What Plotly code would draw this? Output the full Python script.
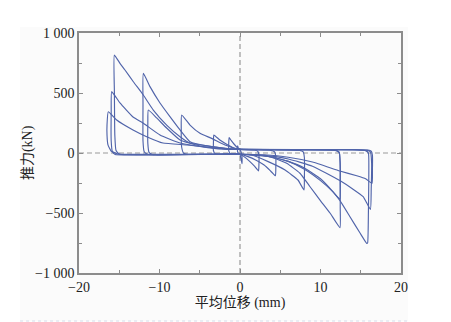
import plotly.graph_objects as go

# ---- data (displacement in mm, thrust in kN) ----
loop0_x = [0, 0.1, 0.25, 0.25, 0.1, 0, -0.2, -0.3, -0.3, -0.1, 0]
loop0_y = [-10, -40, -90, -30, 15, 25, 40, 60, 10, -8, -10]

loop1_x = [0, 0.5, 1.2, 1.8, 2.3, 2.35, 2.35, 2.2, 1.8, 1.0, 0,
           -0.25, -0.75, -1.1, -1.35, -1.4, -1.4, -1.2, -0.8, 0]
loop1_y = [-10, -30, -70, -110, -150, -100, -20, 15, 25, 28, 30,
           40, 75, 105, 128, 80, 20, -5, -10, -10]

loop2_x = [0, 1, 2, 3, 3.8, 4.4, 4.45, 4.45, 4.3, 3.8, 2, 0,
           -0.5, -1.5, -2.5, -3.25, -3.3, -3.3, -3.1, -2.6, 0]
loop2_y = [-10, -30, -60, -100, -150, -190, -120, -30, 10, 22, 27, 30,
           33, 67, 108, 150, 90, 20, -5, -10, -10]

loop3_x = [0, 1.45, 3.5, 5.6, 7.2, 7.95, 8.0, 8.0, 7.85, 7.4, 4, 0,
           -0.25, -1.86, -3.52, -4.97, -6.21, -7.25, -7.3, -7.25, -7.0, -6.5, 0]
loop3_y = [-10, -17, -72, -142, -225, -308, -200, -40, 10, 22, 27, 30,
           33, 67, 122, 164, 233, 317, 200, 50, -2, -10, -10]

loop4_x = [0, 2, 3.7, 5.8, 7.45, 8.7, 9.94, 11.18, 12.42, 12.45, 12.45, 12.35, 12.0, 11, 6, 0,
           -1.24, -3.73, -6.21, -7.45, -8.7, -9.94, -11.18, -12.01,
           -12.05, -12.05, -11.9, -11.5, -10.5, -5, 0]
loop4_y = [-10, -20, -31, -86, -169, -281, -392, -500, -622, -450, -150, 0, 20, 25, 28, 30,
           35, 55, 94, 192, 303, 417, 553, 664,
           400, 100, 10, -10, -15, -12, -10]

loop5_x = [0, 2, 4, 6, 8, 10, 11.5, 12.4, 12.45, 12.45, 12.3, 11.8, 6, 0,
           -2, -4.97, -7.45, -9.11, -10.35, -11.39,
           -11.45, -11.45, -11.3, -10.9, -9, 0]
loop5_y = [-10, -15, -35, -70, -135, -230, -320, -385, -250, -80, 10, 22, 27, 30,
           35, 58, 108, 208, 292, 358,
           250, 80, 5, -12, -15, -10]

loop6_x = [0, 2, 4, 6, 8, 10, 11.5, 12.4, 13.66, 14.91, 15.74, 15.85,
           15.95, 16.0, 15.95, 15.6, 14.5, 8, 0,
           -1.24, -3.1, -6.21, -7.45, -9.11, -10.77, -12.01, -13.25, -14.29, -14.91, -15.61,
           -15.6, -15.55, -15.4, -15.0, -14, -10, 0]
loop6_y = [-10, -15, -35, -70, -125, -215, -320, -395, -531, -667, -753, -750,
           -500, -200, 0, 20, 25, 28, 30,
           32, 50, 83, 136, 233, 358, 483, 594, 692, 747, 817,
           500, 150, 20, -8, -15, -15, -10]

loop7_x = [0, 3, 6, 9, 12.4, 14, 15.3, 16.2,
           16.3, 16.35, 16.2, 15.8, 14, 0,
           -1.5, -4, -7.45, -9.94, -12.05, -13.29, -14.91, -15.94,
           -16.0, -16.0, -15.85, -15.5, -14, 0]
loop7_y = [-10, -20, -50, -110, -230, -300, -364, -470,
           -300, -80, 10, 22, 27, 30,
           30, 45, 83, 150, 250, 300, 417, 511,
           350, 100, 10, -12, -16, -10]

loop8_x = [0, 3, 6, 9, 12.4, 14.5, 15.6, 16.4,
           16.45, 16.45, 16.3, 15.9, 14, 0,
           -3.1, -6.58, -9.57, -11.59, -13.29, -15.32, -16.36,
           -16.52, -16.52, -16.4, -16.02, -15.16, -14, 0]
loop8_y = [-10, -15, -35, -75, -150, -190, -215, -253,
           -150, -20, 15, 25, 28, 30,
           42, 67, 83, 136, 192, 275, 344,
           233, 150, 67, 17, -8, -12, -10]

loops = [(loop0_x, loop0_y), (loop1_x, loop1_y), (loop2_x, loop2_y), (loop3_x, loop3_y),
         (loop4_x, loop4_y), (loop5_x, loop5_y), (loop6_x, loop6_y), (loop7_x, loop7_y),
         (loop8_x, loop8_y)]

y_tickvals = [-1000, -500, 0, 500, 1000]
y_ticktext = ["\u22121 000", "\u2212500", "0", "500", "1 000"]
x_tickvals = [-20, -10, 0, 10, 20]
x_ticktext = ["\u221220", "\u221210", "0", "10", "20"]

x_title = "平均位移 (mm)"
y_title = "推力(kN)"

LINE = "#5064aa"
AX = "#8c8c8c"
FONT = "Liberation Serif, Noto Sans CJK SC, serif"

fig = go.Figure()
for lx, ly in loops:
    fig.add_trace(go.Scatter(x=lx, y=ly, mode="lines",
                             line=dict(color=LINE, width=1.15, shape="spline", smoothing=0.4),
                             showlegend=False, hoverinfo="skip"))

axis_common = dict(showline=True, linecolor=AX, linewidth=1.5, mirror="ticks",
                   ticks="inside", ticklen=4, tickcolor=AX, tickwidth=1,
                   showgrid=False, zeroline=False,
                   tickfont=dict(family=FONT, size=14, color="#222"))

fig.update_xaxes(range=[-20, 20], tickvals=x_tickvals, ticktext=x_ticktext,
                 minor=dict(tick0=0, dtick=5, ticks="inside", ticklen=3, tickcolor=AX),
                 title=dict(text=x_title, font=dict(family=FONT, size=14, color="#222"),
                            standoff=4),
                 **axis_common)
fig.update_yaxes(range=[-1000, 1000], tickvals=y_tickvals, ticktext=y_ticktext,
                 minor=dict(tick0=0, dtick=250, ticks="inside", ticklen=3, tickcolor=AX),
                 **axis_common)

shapes = [
    # light panel behind the figure
    dict(type="rect", xref="paper", yref="paper", x0=-0.183, x1=1.022, y0=-0.2, y1=1.025,
         fillcolor="#fbfbfb", line=dict(width=0), layer="below"),
    # dotted rule at bottom
    dict(type="line", xref="paper", yref="paper", x0=-0.183, x1=1.022, y0=-0.2, y1=-0.2,
         line=dict(color="#d4dcea", width=1, dash="dot")),
    # dashed zero lines
    dict(type="line", xref="x", yref="paper", x0=0, x1=0, y0=0, y1=1,
         line=dict(color="#999999", width=1.2, dash="5px,3px"), layer="below"),
    dict(type="line", xref="paper", yref="y", x0=0, x1=1, y0=0, y1=0,
         line=dict(color="#999999", width=1.2, dash="5px,3px"), layer="below"),
]

fig.update_layout(width=451, height=322,
                  margin=dict(l=79, r=50, t=33, b=49),
                  paper_bgcolor="white", plot_bgcolor="rgba(0,0,0,0)",
                  shapes=shapes, showlegend=False,
                  annotations=[dict(text=y_title, textangle=-90, xref="paper", yref="paper",
                                    x=-0.158, y=0.5, xanchor="center", yanchor="middle",
                                    showarrow=False,
                                    font=dict(family=FONT, size=14, color="#222"))])

fig.write_html("out.html")
